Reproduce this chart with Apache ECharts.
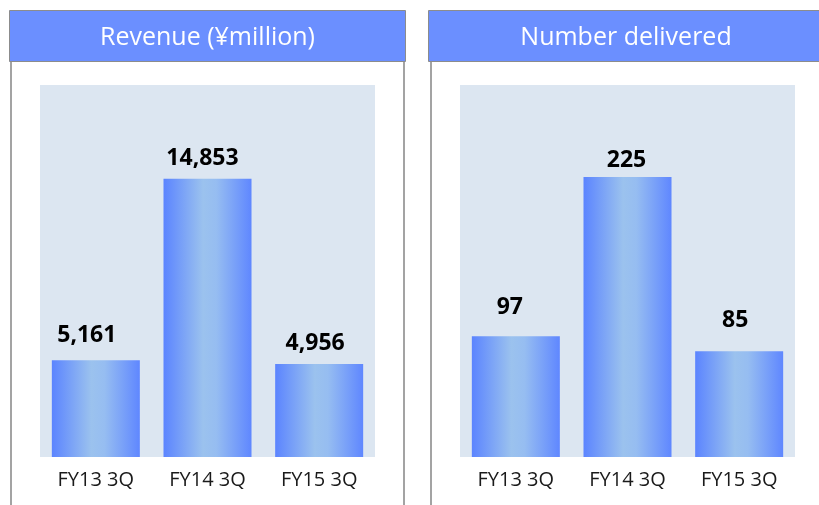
<!DOCTYPE html>
<html>
<head>
<meta charset="utf-8">
<script src="https://cdn.jsdelivr.net/npm/echarts@6/dist/echarts.min.js"></script>
<style>
html,body{margin:0;padding:0;background:#fff;}
#c{width:819px;height:505px;}
</style>
</head>
<body>
<div id="c"></div>
<script>
const categories = ['FY13 3Q', 'FY14 3Q', 'FY15 3Q'];
const revenue = [5161, 14853, 4956];
const delivered = [97, 225, 85];
const titles = ['Revenue (¥million)', 'Number delivered'];

// label nudges (style only)
const revLabelStyle = [{d: 13, x: -9}, {d: 9, x: -5}, {d: 9, x: -4}];
const delLabelStyle = [{d: 17, x: -6}, {d: 5, x: -1}, {d: 19, x: -4}];

const FONT = '"Open Sans", "Noto Sans", sans-serif';
const barGrad = {
  type: 'linear', x: 0, y: 0, x2: 1, y2: 0,
  colorStops: [
    {offset: 0, color: '#5b84ff'},
    {offset: 0.45, color: '#9bc2ee'},
    {offset: 0.6, color: '#96bdf1'},
    {offset: 1, color: '#5f87ff'}
  ]
};

function fmt(v){ return String(v).replace(/\B(?=(\d{3})+(?!\d))/g, ','); }

function seriesData(vals, st){
  return vals.map((v, i) => ({
    value: v,
    label: {distance: st[i].d, offset: [st[i].x, 0]}
  }));
}

const chart = echarts.init(document.getElementById('c'), null, {renderer: 'canvas'});

const gridCommon = {top: 85, height: 372, width: 335, show: true, backgroundColor: '#dce6f1', borderWidth: 0, containLabel: false};
const xCommon = {
  type: 'category', data: categories,
  axisLine: {show: false}, axisTick: {show: false},
  axisLabel: {color: '#1a1a1a', fontSize: 20, fontFamily: FONT, margin: 13}
};
const yCommon = {type: 'value', min: 0, show: false, splitLine: {show: false}};
const labelCommon = {
  show: true, position: 'top', color: '#000', fontSize: 23, fontWeight: 'bold', fontFamily: FONT,
  formatter: p => fmt(p.value)
};

const frameStroke = '#8c8c8c';

chart.setOption({
  animation: false,
  grid: [
    Object.assign({left: 40}, gridCommon),
    Object.assign({left: 460}, gridCommon)
  ],
  xAxis: [
    Object.assign({gridIndex: 0}, xCommon),
    Object.assign({gridIndex: 1}, xCommon)
  ],
  yAxis: [
    Object.assign({gridIndex: 0, max: 19850}, yCommon),
    Object.assign({gridIndex: 1, max: 299}, yCommon)
  ],
  series: [
    {type: 'bar', xAxisIndex: 0, yAxisIndex: 0, barWidth: 88, data: seriesData(revenue, revLabelStyle),
     itemStyle: {color: barGrad}, label: labelCommon},
    {type: 'bar', xAxisIndex: 1, yAxisIndex: 1, barWidth: 88, data: seriesData(delivered, delLabelStyle),
     itemStyle: {color: barGrad}, label: labelCommon}
  ],
  graphic: [
    {type: 'line', shape: {x1: 11, y1: 62, x2: 11, y2: 505}, style: {stroke: frameStroke, lineWidth: 1.6}},
    {type: 'line', shape: {x1: 404, y1: 62, x2: 404, y2: 505}, style: {stroke: frameStroke, lineWidth: 1.6}},
    {type: 'line', shape: {x1: 431, y1: 62, x2: 431, y2: 505}, style: {stroke: frameStroke, lineWidth: 1.6}},
    {type: 'rect', shape: {x: 9.5, y: 10.5, width: 396, height: 51}, style: {fill: '#6b8fff', stroke: frameStroke, lineWidth: 1}},
    {type: 'rect', shape: {x: 428.5, y: 10.5, width: 400, height: 51}, style: {fill: '#6b8fff', stroke: frameStroke, lineWidth: 1}},
    {type: 'text', x: 207.5, y: 38, style: {text: titles[0], fill: '#fff', fontSize: 25, fontWeight: 500, fontFamily: FONT, align: 'center', verticalAlign: 'middle'}},
    {type: 'text', x: 626, y: 38, style: {text: titles[1], fill: '#fff', fontSize: 25, fontWeight: 500, fontFamily: FONT, align: 'center', verticalAlign: 'middle'}}
  ]
});
</script>
</body>
</html>
